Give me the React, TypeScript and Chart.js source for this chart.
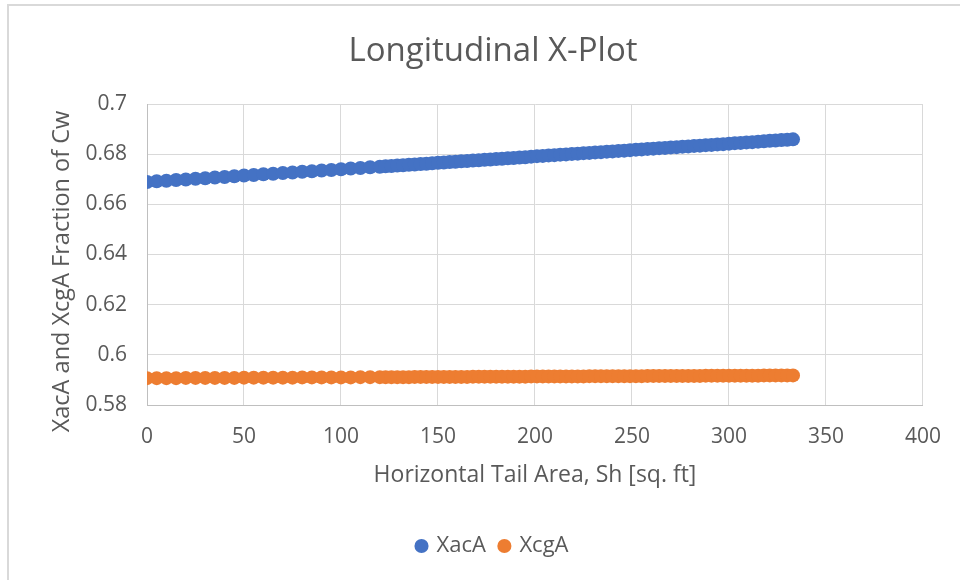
import React, { useEffect, useRef } from "react";
import { Chart, registerables } from "chart.js";

Chart.register(...registerables);

// Horizontal tail area Sh [sq. ft]
const tailArea = [
  0, 5, 10, 15, 20, 25, 30, 35, 40, 45, 50, 55, 60, 65, 70, 75, 80, 85, 90, 95,
  100, 105, 110, 115, 120,
  123, 126, 129, 132, 135, 138, 141, 144, 147, 150, 153, 156, 159, 162, 165,
  168, 171, 174, 177, 180, 183, 186, 189, 192, 195, 198, 201, 204, 207, 210,
  213, 216, 219, 222, 225, 228, 231, 234, 237, 240, 243, 246, 249, 252, 255,
  258, 261, 264, 267, 270, 273, 276, 279, 282, 285, 288, 291, 294, 297, 300,
  303, 306, 309, 312, 315, 318, 321, 324, 327, 330, 333,
];

// Aerodynamic centre location, fraction of Cw
const xacA = [
  0.6689, 0.6692, 0.6694, 0.6697, 0.6699, 0.6702, 0.6704, 0.6707, 0.6709, 0.6712,
  0.6715, 0.6717, 0.672, 0.6722, 0.6725, 0.6727, 0.673, 0.6732, 0.6735, 0.6737,
  0.674, 0.6743, 0.6745, 0.6748, 0.675,
  0.6752, 0.6753, 0.6755, 0.6756, 0.6758, 0.6759, 0.6761, 0.6762, 0.6764, 0.6766,
  0.6767, 0.6769, 0.677, 0.6772, 0.6773, 0.6775, 0.6776, 0.6778, 0.6779, 0.6781,
  0.6782, 0.6784, 0.6785, 0.6787, 0.6788, 0.679, 0.6792, 0.6793, 0.6795, 0.6796,
  0.6798, 0.6799, 0.6801, 0.6802, 0.6804, 0.6805, 0.6807, 0.6808, 0.681, 0.6811,
  0.6813, 0.6814, 0.6816, 0.6818, 0.6819, 0.6821, 0.6822, 0.6824, 0.6825, 0.6827,
  0.6828, 0.683, 0.6831, 0.6833, 0.6834, 0.6836, 0.6837, 0.6839, 0.684, 0.6842,
  0.6844, 0.6845, 0.6847, 0.6848, 0.685, 0.6851, 0.6853, 0.6854, 0.6856, 0.6857,
  0.6859,
];

// Centre of gravity location, fraction of Cw
const xcgA = [
  0.5907, 0.5907, 0.5907, 0.5907, 0.5908, 0.5908, 0.5908, 0.5908, 0.5908, 0.5908,
  0.5909, 0.5909, 0.5909, 0.5909, 0.5909, 0.5909, 0.591, 0.591, 0.591, 0.591,
  0.591, 0.591, 0.5911, 0.5911, 0.5911,
  0.5911, 0.5911, 0.5911, 0.5911, 0.5911, 0.5912, 0.5912, 0.5912, 0.5912, 0.5912,
  0.5912, 0.5912, 0.5912, 0.5912, 0.5912, 0.5913, 0.5913, 0.5913, 0.5913, 0.5913,
  0.5913, 0.5913, 0.5913, 0.5913, 0.5913, 0.5914, 0.5914, 0.5914, 0.5914, 0.5914,
  0.5914, 0.5914, 0.5914, 0.5914, 0.5914, 0.5915, 0.5915, 0.5915, 0.5915, 0.5915,
  0.5915, 0.5915, 0.5915, 0.5915, 0.5915, 0.5916, 0.5916, 0.5916, 0.5916, 0.5916,
  0.5916, 0.5916, 0.5916, 0.5916, 0.5916, 0.5917, 0.5917, 0.5917, 0.5917, 0.5917,
  0.5917, 0.5917, 0.5917, 0.5917, 0.5917, 0.5918, 0.5918, 0.5918, 0.5918, 0.5918,
  0.5918,
];

const xTickValues = [0, 50, 100, 150, 200, 250, 300, 350, 400];
const yTickValues = [0.58, 0.6, 0.62, 0.64, 0.66, 0.68, 0.7];

const seriesNames = ["XacA", "XcgA"];
const seriesColors = ["#4472C4", "#ED7D31"];

const chartTitle = "Longitudinal X-Plot";
const xAxisTitle = "Horizontal Tail Area, Sh [sq. ft]";
const yAxisTitle = "XacA and XcgA Fraction of Cw";

const FONT = "'Open Sans', 'Noto Sans', sans-serif";
const TEXT = "#595959";
const GRID = "#D9D9D9";
const AXIS = "#BFBFBF";

// Vertical axis title, drawn beside the value axis and set a little below
// the plot's midline.
const yAxisTitlePlugin = {
  id: "yAxisTitle",
  afterDraw(chart: any) {
    const { ctx, chartArea } = chart;
    const cy = (chartArea.top + chartArea.bottom) / 2 + 17;
    ctx.save();
    ctx.translate(62, cy);
    ctx.rotate(-Math.PI / 2);
    ctx.font = `23.5px ${FONT}`;
    ctx.fillStyle = TEXT;
    ctx.textAlign = "center";
    ctx.textBaseline = "middle";
    ctx.fillText(yAxisTitle, 0, 0);
    ctx.restore();
  },
};

export default function App() {
  const canvasRef = useRef<HTMLCanvasElement>(null);

  useEffect(() => {
    const canvas = canvasRef.current;
    if (!canvas) return;

    const seriesValues = [xacA, xcgA];
    const datasets = seriesNames.map((name, i) => ({
      label: name,
      data: tailArea.map((x, k) => ({ x, y: seriesValues[i][k] })),
      backgroundColor: seriesColors[i],
      borderColor: seriesColors[i],
      borderWidth: 0,
      pointRadius: 7,
      pointBorderWidth: 0,
      pointStyle: "circle" as const,
      showLine: false,
    }));

    const chart = new Chart(canvas, {
      type: "scatter",
      data: { datasets },
      plugins: [yAxisTitlePlugin],
      options: {
        responsive: false,
        animation: false,
        devicePixelRatio: 1,
        layout: { padding: { left: 62, right: 36, top: 0, bottom: 13 } },
        plugins: {
          title: {
            display: true,
            text: chartTitle,
            color: TEXT,
            font: { family: FONT, size: 33, weight: "normal" },
            padding: { top: 32, bottom: 32.4 },
          },
          legend: {
            position: "bottom",
            labels: {
              usePointStyle: true,
              boxWidth: 8,
              boxHeight: 10,
              padding: 14.5,
              color: TEXT,
              font: { family: FONT, size: 22 },
            },
          },
          tooltip: { enabled: false },
        },
        scales: {
          x: {
            type: "linear",
            min: 0,
            max: 400,
            afterBuildTicks: (scale: any) => {
              scale.ticks = xTickValues.map((value) => ({ value }));
            },
            afterFit: (scale: any) => {
              scale.height = 115.5;
            },
            grid: { color: GRID, lineWidth: 1, drawTicks: false },
            border: { color: AXIS, width: 1 },
            ticks: {
              padding: 19,
              color: TEXT,
              font: { family: FONT, size: 21 },
              maxRotation: 0,
            },
            title: {
              display: true,
              text: xAxisTitle,
              color: TEXT,
              font: { family: FONT, size: 23 },
              padding: { top: 0, bottom: 31.7 },
            },
          },
          y: {
            type: "linear",
            min: 0.58,
            max: 0.7,
            afterBuildTicks: (scale: any) => {
              scale.ticks = yTickValues.map((value) => ({ value }));
            },
            afterFit: (scale: any) => {
              scale.width = 85;
            },
            grid: { color: GRID, lineWidth: 1, drawTicks: false },
            border: { color: AXIS, width: 1 },
            ticks: {
              padding: 20,
              color: TEXT,
              font: { family: FONT, size: 21 },
              callback: (v: any) => String(Number(Number(v).toFixed(2))),
            },
          },
        },
      },
    });

    return () => chart.destroy();
  }, []);

  return (
    <div
      style={{
        position: "absolute",
        left: 0,
        top: 0,
        width: 960,
        height: 580,
        overflow: "hidden",
        background: "#FFFFFF",
      }}
    >
      <div
        style={{
          position: "absolute",
          left: 7,
          top: 4,
          width: 1000,
          height: 700,
          border: `2px solid ${GRID}`,
          boxSizing: "border-box",
        }}
      />
      <canvas
        ref={canvasRef}
        width={960}
        height={580}
        style={{ position: "absolute", left: 0, top: 0 }}
      />
    </div>
  );
}
